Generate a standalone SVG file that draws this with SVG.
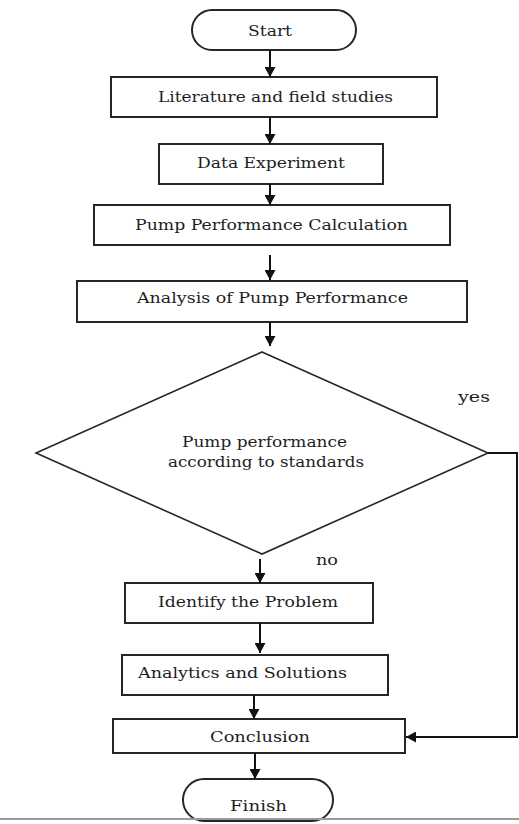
<svg xmlns="http://www.w3.org/2000/svg" width="519" height="824" viewBox="0 0 519 824">
  <style>
    .box { fill: #ffffff; stroke: #262626; stroke-width: 2; }
    .dia { fill: #ffffff; stroke: #262626; stroke-width: 1.6; }
    .lbl { font-family: "DejaVu Serif", "Liberation Serif", serif; font-size: 15px; fill: #1e1e1e; }
    .conn { fill: none; stroke: #111111; stroke-width: 2; }
  </style>
  <defs>
    <marker id="ah" markerUnits="userSpaceOnUse" markerWidth="11" markerHeight="11" refX="10" refY="5.5" orient="auto">
      <path d="M0,0 L10,5.5 L0,11 z" fill="#111111"/>
    </marker>
  </defs>
  <rect width="519" height="824" fill="#ffffff"/>

  <g id="start">
    <rect class="box" x="192" y="10" width="164" height="40" rx="20" ry="20"/>
    <text class="lbl" x="248" y="36" textLength="44" lengthAdjust="spacingAndGlyphs">Start</text>
  </g>
  <g id="literature">
    <rect class="box" x="111" y="77" width="326" height="40"/>
    <text class="lbl" x="158" y="102" textLength="235" lengthAdjust="spacingAndGlyphs">Literature and field studies</text>
  </g>
  <g id="data">
    <rect class="box" x="159" y="144" width="224" height="40"/>
    <text class="lbl" x="197" y="168" textLength="148" lengthAdjust="spacingAndGlyphs">Data Experiment</text>
  </g>
  <g id="calc">
    <rect class="box" x="94" y="205" width="356" height="40"/>
    <text class="lbl" x="135" y="230" textLength="273" lengthAdjust="spacingAndGlyphs">Pump Performance Calculation</text>
  </g>
  <g id="analysis">
    <rect class="box" x="77" y="281" width="390" height="41"/>
    <text class="lbl" x="137" y="303" textLength="271" lengthAdjust="spacingAndGlyphs">Analysis of Pump Performance</text>
  </g>
  <g id="decision">
    <polygon class="dia" points="262,352 488,453 262,554 36,453"/>
    <text class="lbl" x="182" y="447" textLength="165" lengthAdjust="spacingAndGlyphs">Pump performance</text>
    <text class="lbl" x="168" y="467" textLength="196" lengthAdjust="spacingAndGlyphs">according to standards</text>
  </g>
  <g id="identify">
    <rect class="box" x="125" y="583" width="248" height="40"/>
    <text class="lbl" x="158" y="607" textLength="180" lengthAdjust="spacingAndGlyphs">Identify the Problem</text>
  </g>
  <g id="analytics">
    <rect class="box" x="122" y="655" width="266" height="40"/>
    <text class="lbl" x="138" y="678" textLength="209" lengthAdjust="spacingAndGlyphs">Analytics and Solutions</text>
  </g>
  <g id="conclusion">
    <rect class="box" x="113" y="719" width="292" height="34"/>
    <text class="lbl" x="210" y="742" textLength="100" lengthAdjust="spacingAndGlyphs">Conclusion</text>
  </g>
  <g id="finish">
    <rect class="box" x="183" y="779" width="150" height="42" rx="21" ry="21"/>
    <text class="lbl" x="230" y="811" textLength="57" lengthAdjust="spacingAndGlyphs">Finish</text>
  </g>

  <g id="connectors">
    <line class="conn" x1="270" y1="50" x2="270" y2="77" marker-end="url(#ah)"/>
    <line class="conn" x1="270" y1="117" x2="270" y2="144" marker-end="url(#ah)"/>
    <line class="conn" x1="270" y1="184" x2="270" y2="205" marker-end="url(#ah)"/>
    <line class="conn" x1="270" y1="255" x2="270" y2="280" marker-end="url(#ah)"/>
    <line class="conn" x1="270" y1="322" x2="270" y2="346" marker-end="url(#ah)"/>
    <line class="conn" x1="260" y1="559" x2="260" y2="583" marker-end="url(#ah)"/>
    <line class="conn" x1="260" y1="623" x2="260" y2="653" marker-end="url(#ah)"/>
    <line class="conn" x1="254" y1="695" x2="254" y2="719" marker-end="url(#ah)"/>
    <line class="conn" x1="255" y1="753" x2="255" y2="779" marker-end="url(#ah)"/>
    <polyline class="conn" points="488,453 517,453 517,737 406,737" marker-end="url(#ah)"/>
    <text class="lbl" x="458" y="402" textLength="32" lengthAdjust="spacingAndGlyphs">yes</text>
    <text class="lbl" x="316" y="565" textLength="22" lengthAdjust="spacingAndGlyphs">no</text>
  </g>

  <line x1="0" y1="819" x2="519" y2="819" stroke="#9a9a9a" stroke-width="2"/>
</svg>
